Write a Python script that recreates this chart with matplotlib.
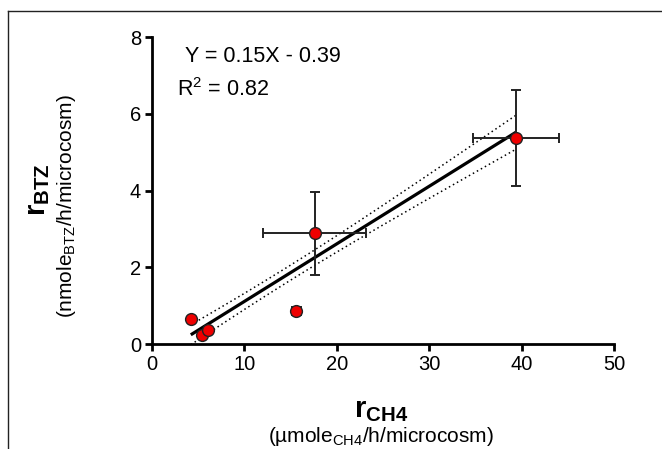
import numpy as np
import matplotlib
matplotlib.use("Agg")
import matplotlib.pyplot as plt
from matplotlib.lines import Line2D

plt.rcParams['font.family'] = ['Liberation Sans', 'DejaVu Sans']
plt.rcParams['mathtext.fontset'] = 'custom'
plt.rcParams['mathtext.rm'] = 'Liberation Sans'
plt.rcParams['mathtext.bf'] = 'Liberation Sans:bold'
plt.rcParams['mathtext.it'] = 'Liberation Sans:italic'

# data
r_ch4 = [4.2, 5.4, 6.1, 15.6, 17.6, 39.4]
r_btz = [0.65, 0.24, 0.36, 0.85, 2.88, 5.38]
r_ch4_err = [0.0, 0.0, 0.0, 0.5, 5.6, 4.7]
r_btz_err = [0.0, 0.0, 0.0, 0.05, 1.08, 1.25]
slope = 0.15
intercept = -0.39
ci_scale = 0.48  # t * s for 95% CI band
eq_text = "Y = 0.15X - 0.39"
r2_text = "R$^2$ = 0.82"
x_ticks = [0, 10, 20, 30, 40, 50]
y_ticks = [0, 2, 4, 6, 8]

W, H = 662, 449
fig = plt.figure(figsize=(W / 100, H / 100), dpi=100)
ax = fig.add_axes([152 / W, 1 - 344 / H, (614 - 152) / W, (344 - 37) / H])

x = np.array(r_ch4)
n = len(x)
mx = x.mean()
sxx = ((x - mx) ** 2).sum()
xl = np.linspace(x.min(), x.max(), 200)
yl = slope * xl + intercept
half = ci_scale * np.sqrt(1 / n + (xl - mx) ** 2 / sxx)

ax.plot(xl, yl + half, color='black', lw=1.1, ls=(0, (1, 2)), zorder=2)
ax.plot(xl, yl - half, color='black', lw=1.1, ls=(0, (1, 2)), zorder=2)
ax.plot(xl, yl, color='black', lw=2.3, zorder=3, solid_capstyle='butt')

ax.errorbar(r_ch4, r_btz, xerr=r_ch4_err, yerr=r_btz_err, fmt='none',
            ecolor='#222222', elinewidth=1.4, capsize=3.3, capthick=1.4, zorder=4)
ax.plot(r_ch4, r_btz, 'o', ms=8.5, mfc='#ee0000', mec='#222222', mew=1.0,
        zorder=5, ls='none')

ax.set_xlim(0, 50)
ax.set_ylim(0, 8)
ax.set_xticks(x_ticks)
ax.set_yticks(y_ticks)
for s in ['top', 'right']:
    ax.spines[s].set_visible(False)
for s in ['left', 'bottom']:
    ax.spines[s].set_linewidth(2.0)
    ax.spines[s].set_capstyle('projecting')
ax.tick_params(axis='both', direction='out', length=5, width=2.0,
               labelsize=14.5, pad=3, colors='black')

fig.text(185 / W, 1 - 57 / H, eq_text, fontsize=15.5, va='center', ha='left')
fig.text(177 / W, 1 - 90 / H, r2_text, fontsize=15.5, va='center', ha='left')

fig.text(381 / W, 1 - 410 / H, r'$\mathbf{r}_{\mathbf{CH4}}$', fontsize=21,
         ha='center', va='center')
fig.text(381 / W, 1 - 437 / H, r'(µmole$_{\mathrm{CH4}}$/h/microcosm)',
         fontsize=15, ha='center', va='center')
fig.text(38 / W, 1 - 190 / H, r'$\mathbf{r}_{\mathbf{BTZ}}$', fontsize=21,
         ha='center', va='center', rotation=90)
fig.text(66 / W, 1 - 206 / H, r'(nmole$_{\mathrm{BTZ}}$/h/microcosm)',
         fontsize=15, ha='center', va='center', rotation=90)

# outer frame
fx, fy = 8 / W, 1 - 11 / H
fig.add_artist(Line2D([fx, fx], [0, fy], transform=fig.transFigure,
                      color='#222222', lw=1.0))
fig.add_artist(Line2D([fx, 1], [fy, fy], transform=fig.transFigure,
                      color='#222222', lw=1.0))

fig.savefig('out.png', dpi=100)
